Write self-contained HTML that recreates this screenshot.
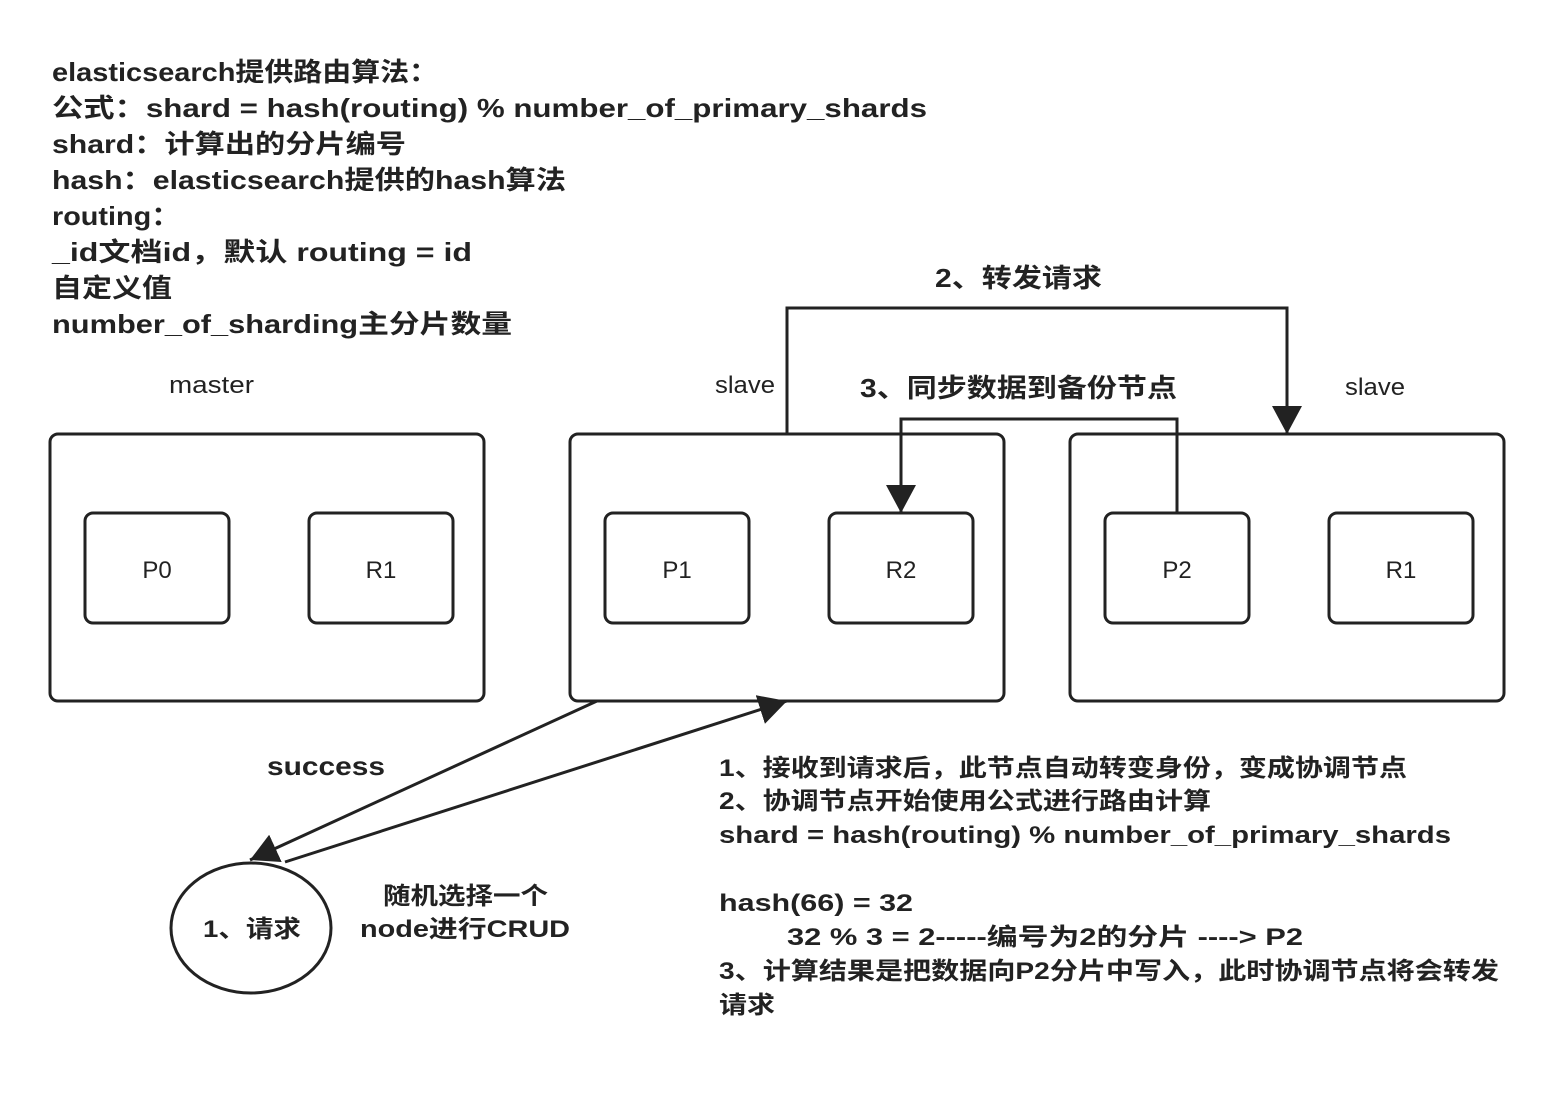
<!DOCTYPE html>
<html><head><meta charset="utf-8"><style>
html,body{margin:0;padding:0;background:#fff;}
svg text{font-family:"Liberation Sans","Noto Sans CJK SC",sans-serif;fill:#222;}
.b{font-weight:bold;}
</style></head><body>
<svg width="1564" height="1104" viewBox="0 0 1564 1104" xmlns="http://www.w3.org/2000/svg">
<defs>
<marker id="h" markerWidth="28" markerHeight="30" refX="28" refY="15" orient="auto" markerUnits="userSpaceOnUse"><path d="M0,0 L28,15 L0,30 z" fill="#222"/></marker></defs>
<g class="b" font-size="26">
<text x="52" y="81" textLength="386" lengthAdjust="spacingAndGlyphs">elasticsearch提供路由算法：</text>
<text x="52" y="117" textLength="875" lengthAdjust="spacingAndGlyphs">公式：shard = hash(routing) % number_of_primary_shards</text>
<text x="52" y="153" textLength="354" lengthAdjust="spacingAndGlyphs">shard：计算出的分片编号</text>
<text x="52" y="189" textLength="514" lengthAdjust="spacingAndGlyphs">hash：elasticsearch提供的hash算法</text>
<text x="52" y="225" textLength="128" lengthAdjust="spacingAndGlyphs">routing：</text>
<text x="52" y="261" textLength="420" lengthAdjust="spacingAndGlyphs">_id文档id，默认 routing  = id</text>
<text x="52" y="297" textLength="120" lengthAdjust="spacingAndGlyphs">自定义值</text>
<text x="52" y="333" textLength="460" lengthAdjust="spacingAndGlyphs">number_of_sharding主分片数量</text>
<text x="935" y="287" textLength="167" lengthAdjust="spacingAndGlyphs">2、转发请求</text>
<text x="860" y="397" textLength="317" lengthAdjust="spacingAndGlyphs">3、同步数据到备份节点</text>
<text x="267" y="775" textLength="118" lengthAdjust="spacingAndGlyphs">success</text>
</g>
<g font-size="24">
<text x="169" y="393" textLength="85" lengthAdjust="spacingAndGlyphs">master</text>
<text x="715" y="393" textLength="60" lengthAdjust="spacingAndGlyphs">slave</text>
<text x="1345" y="395" textLength="60" lengthAdjust="spacingAndGlyphs">slave</text>
</g>
<g fill="none" stroke="#222" stroke-width="3">
<rect x="50" y="434" width="434" height="267" rx="8"/>
<rect x="570" y="434" width="434" height="267" rx="8"/>
<rect x="1070" y="434" width="434" height="267" rx="8"/>
<rect x="85" y="513" width="144" height="110" rx="8"/>
<rect x="309" y="513" width="144" height="110" rx="8"/>
<rect x="605" y="513" width="144" height="110" rx="8"/>
<rect x="829" y="513" width="144" height="110" rx="8"/>
<rect x="1105" y="513" width="144" height="110" rx="8"/>
<rect x="1329" y="513" width="144" height="110" rx="8"/>
<ellipse cx="251" cy="928" rx="80" ry="65"/>
<path d="M787,434 V308 H1287 V434" marker-end="url(#h)"/>
<path d="M1177,513 V419 H901 V513" marker-end="url(#h)"/>
<path d="M597,701 L250,860" marker-end="url(#h)"/>
<path d="M285,862 L787,701" marker-end="url(#h)"/>
</g>
<g font-size="24" text-anchor="middle">
<text x="157" y="578">P0</text><text x="381" y="578">R1</text>
<text x="677" y="578">P1</text><text x="901" y="578">R2</text>
<text x="1177" y="578">P2</text><text x="1401" y="578">R1</text>
</g>
<g class="b" font-size="24">
<text x="203" y="937" textLength="98" lengthAdjust="spacingAndGlyphs">1、请求</text>
<text x="383" y="904" textLength="165" lengthAdjust="spacingAndGlyphs">随机选择一个</text>
<text x="360" y="937" textLength="210" lengthAdjust="spacingAndGlyphs">node进行CRUD</text>
<text x="719" y="776" textLength="688" lengthAdjust="spacingAndGlyphs">1、接收到请求后，此节点自动转变身份，变成协调节点</text>
<text x="719" y="809" textLength="492" lengthAdjust="spacingAndGlyphs">2、协调节点开始使用公式进行路由计算</text>
<text x="719" y="843" textLength="732" lengthAdjust="spacingAndGlyphs">shard = hash(routing) % number_of_primary_shards</text>
<text x="719" y="911" textLength="194" lengthAdjust="spacingAndGlyphs">hash(66) = 32</text>
<text x="787" y="945" textLength="516" lengthAdjust="spacingAndGlyphs">32 % 3 = 2-----编号为2的分片 ----&gt; P2</text>
<text x="719" y="979" textLength="780" lengthAdjust="spacingAndGlyphs">3、计算结果是把数据向P2分片中写入，此时协调节点将会转发</text>
<text x="719" y="1013" textLength="56" lengthAdjust="spacingAndGlyphs">请求</text>
</g>
</svg>
</body></html>
